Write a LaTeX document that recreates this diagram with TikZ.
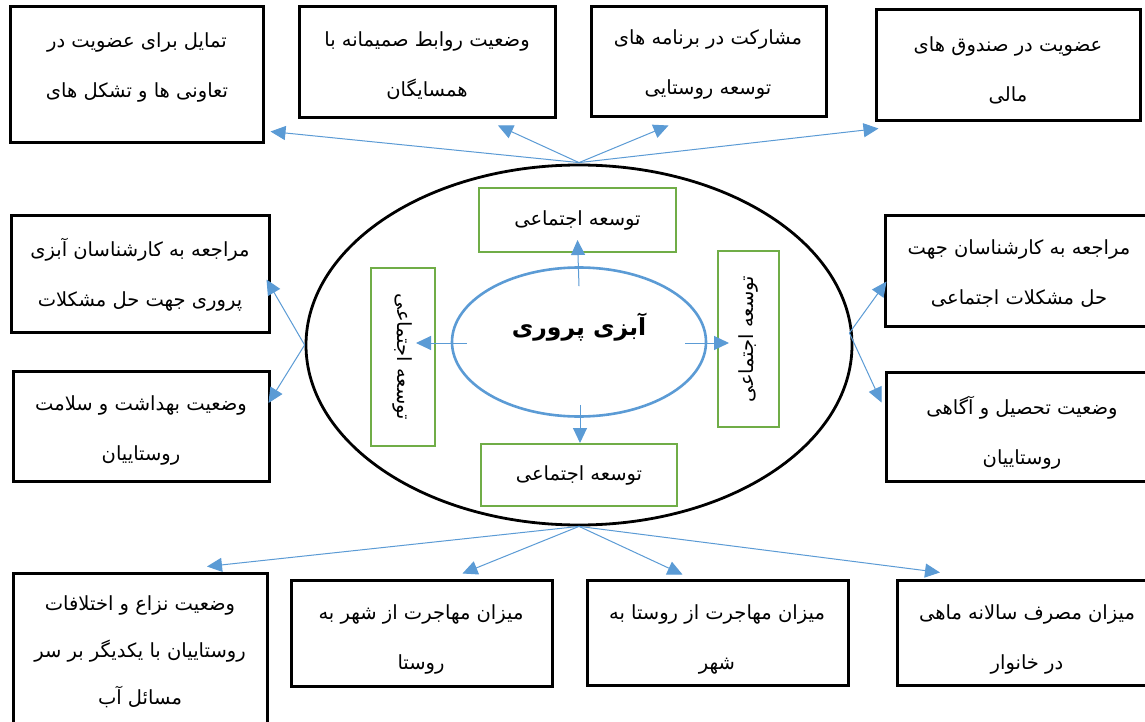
\documentclass[tikz,border=0pt]{standalone}
\usepackage{fontspec}
\usetikzlibrary{calc,arrows.meta,shapes.geometric}
\newfontfamily\arabicfont[Script=Arabic]{DejaVu Sans}
\TeXXeTstate=1
\newcommand{\fa}[1]{\beginR #1\endR}
\definecolor{ablue}{HTML}{5B9BD5}
\definecolor{agreen}{HTML}{70AD47}
\begin{document}
\begin{tikzpicture}[x=1pt,y=-1pt,
  box/.style={draw=black,line width=3pt,inner sep=0pt},
  gbox/.style={draw=agreen,line width=2.6pt,inner sep=0pt,font=\arabicfont\fontsize{19.5}{22}\selectfont},
  txt/.style={font=\arabicfont\fontsize{19.5}{50}\selectfont,align=center,inner sep=0pt},
  arr/.style={draw=ablue,line width=1pt,-{Triangle[length=15pt,width=14pt]}},
]
\clip (0,0) rectangle (1145,722);
\fill[white] (0,0) rectangle (1145,722);

% outer boxes
\node[box,minimum width=253,minimum height=136] (B1) at (136.5,75) {};
\node[box,minimum width=256,minimum height=111] (B2) at (427,62.5) {};
\node[box,minimum width=235,minimum height=110] (B3) at (708.5,62) {};
\node[box,minimum width=264,minimum height=111] (B4) at (1008,65.5) {};
\node[box,minimum width=258,minimum height=117] (B5) at (140,273.5) {};
\node[box,minimum width=256,minimum height=110] (B6) at (141,426) {};
\node[box,minimum width=268,minimum height=111] (B7) at (1019,270.5) {};
\node[box,minimum width=272,minimum height=109] (B8) at (1022,426.5) {};
\node[box,minimum width=254,minimum height=167] (B9) at (140,656.5) {};
\node[box,minimum width=261,minimum height=106] (B10) at (421.5,633) {};
\node[box,minimum width=261,minimum height=105] (B11) at (717.5,632.5) {};
\node[box,minimum width=260,minimum height=105] (B12) at (1027,632.5) {};

% texts
\node[txt] (T1) at (137,67) {\fa{تمایل برای عضویت در}\\\fa{تعاونی ها و تشکل های}};
\node[txt] (T2) at (427,66) {\fa{وضعیت روابط صمیمانه با}\\\fa{همسایگان}};
\node[txt] (T3) at (708,64) {\fa{مشارکت در برنامه های}\\\fa{توسعه روستایی}};
\node[txt] (T4) at (1008,70) {\fa{عضویت در صندوق های}\\\fa{مالی}};
\node[txt] (T5) at (140,275) {\fa{مراجعه به کارشناسان آبزی}\\\fa{پروری جهت حل مشکلات}};
\node[txt] (T6) at (141,430) {\fa{وضعیت بهداشت و سلامت}\\\fa{روستاییان}};
\node[txt] (T7) at (1019,274) {\fa{مراجعه به کارشناسان جهت}\\\fa{حل مشکلات اجتماعی}};
\node[txt] (T8) at (1022,433) {\fa{وضعیت تحصیل و آگاهی}\\\fa{روستاییان}};
\node[txt,font=\arabicfont\fontsize{19.5}{47}\selectfont] (T9) at (140,652) {\fa{وضعیت نزاع و اختلافات}\\\fa{روستاییان با یکدیگر بر سر}\\\fa{مسائل آب}};
\node[txt] (T10) at (421,639) {\fa{میزان مهاجرت از شهر به}\\\fa{روستا}};
\node[txt] (T11) at (717,639) {\fa{میزان مهاجرت از روستا به}\\\fa{شهر}};
\node[txt] (T12) at (1027,639) {\fa{میزان مصرف سالانه ماهی}\\\fa{در خانوار}};

% center
\node[draw=black,ellipse,line width=2.8pt,minimum width=546,minimum height=360] (E1) at (579,345) {};
\node[draw=ablue,ellipse,line width=2.6pt,minimum width=254,minimum height=149] (E2) at (579,342) {};
\node[inner sep=0pt,font=\arabicfont\bfseries\fontsize{23.5}{28}\selectfont] (TT) at (579,327) {\fa{آبزی پروری}};

\node[gbox,minimum width=197,minimum height=64] (G1) at (577.5,220) {\fa{توسعه اجتماعی}};
\node[gbox,minimum width=178,minimum height=64,rotate=-90] (G2) at (403,357) {\fa{توسعه اجتماعی}};
\node[gbox,minimum width=176,minimum height=61,rotate=90] (G3) at (748.5,339) {\fa{توسعه اجتماعی}};
\node[gbox,minimum width=196,minimum height=62] (G4) at (579,475) {\fa{توسعه اجتماعی}};

% inner arrows
\draw[arr] ($(E2.north)+(0,20)$) -- ($(G1.center)+(0,20)$);
\draw[arr] ($(E2.south)+(1,-13)$) -- ($(G4.center)+(1,-32)$);
\draw[arr] ($(E2.west)+(16,1)$) -- ($(G2.center)+(13,-14)$);
\draw[arr] ($(E2.east)+(-22,1)$) -- ($(G3.center)+(-19.5,4)$);

% hubs
\coordinate (HT) at ($(E1.north)+(0,-1)$);
\coordinate (HL) at (E1.west);
\coordinate (HR) at ($(E1.east)+(-4,-12)$);
\coordinate (HB) at (E1.south);

\draw[arr] (HT) -- ($(B1.south east)+(6,-13)$);
\draw[arr] (HT) -- ($(B2.south)+(71,6)$);
\draw[arr] (HT) -- ($(B3.south)+(-40,7)$);
\draw[arr] (HT) -- ($(B4.south west)+(4,6)$);

\draw[arr] (HL) -- ($(B5.east)+(-4,6)$);
\draw[arr] (HL) -- ($(B6.east)+(-2,-23)$);
\draw[arr] (HR) -- ($(B7.west)+(3,11)$);
\draw[arr] (HR) -- ($(B8.west)+(-3,-24)$);

\draw[arr] (HB) -- ($(B9.north)+(67,-5)$);
\draw[arr] (HB) -- ($(B10.north)+(41,-5)$);
\draw[arr] (HB) -- ($(B11.north)+(-35,-4)$);
\draw[arr] (HB) -- ($(B12.north)+(-87,-6)$);
\end{tikzpicture}
\end{document}
